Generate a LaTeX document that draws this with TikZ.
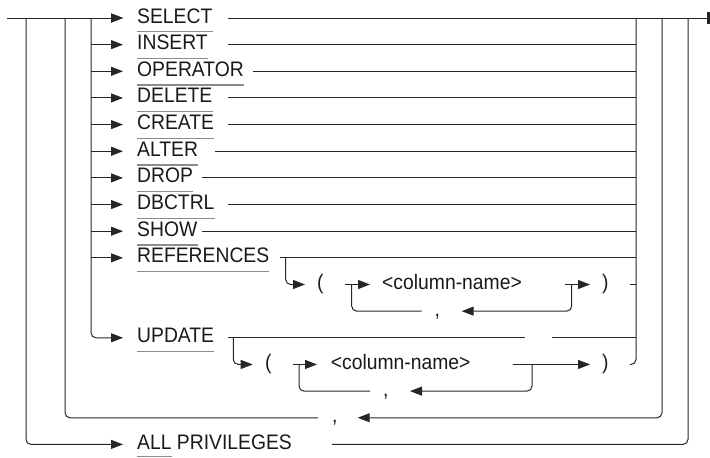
\documentclass[tikz,border=0pt]{standalone}
\usepackage{fontspec}
\setmainfont[FakeStretch=0.92]{Liberation Sans}
\usetikzlibrary{arrows.meta}
\begin{document}
\begin{tikzpicture}[x=1pt,y=-1pt,
  ln/.style={draw=black!85,line width=1pt},
  arr/.style={ln,-{Triangle[length=12pt,width=9pt]}},
  ul/.style={draw=black!45,line width=1.2pt},
  kw/.style={anchor=base west,inner sep=0pt,font=\fontsize{21}{25}\selectfont,text=black!90},
  rc/.style={rounded corners=5pt}]
\useasboundingbox (0,0) rectangle (710,458);
\def\dy{26.65}
% start and end of the main line
\coordinate (start) at (7,18);
\coordinate (stop) at (708.3,18);
\draw[arr] (start) -- (123,18);
\draw[ln] (228,18) -- (stop);
\draw[black!85,line width=3.3pt] (708.3,12) -- (708.3,24);
% simple keyword rows
\foreach \i/\nm/\txt/\xs in {0/sel/SELECT/228,1/ins/INSERT/228,2/opr/OPERATOR/253,3/del/DELETE/228,4/cre/CREATE/228,5/alt/ALTER/215,6/drp/DROP/201.7,7/dbc/DBCTRL/228,8/shw/SHOW/201.7,9/ref/REFERENCES/280}{
  \pgfmathsetmacro\y{18+\dy*\i}
  \pgfmathsetmacro\yb{\y+5}
  \node[kw] (\nm) at (137,\yb) {\txt};
  \draw[ul] ([yshift=-8.7pt]\nm.base west) -- ([yshift=-8.7pt]\nm.base east);
  \draw[arr] (91,\y) -- (123,\y);
  \draw[ln] (\xs,\y) -- (636,\y);
}
% left rails
\draw[arr,rc] (26,18) -- (26,444.4) -- (123,444.4);
\draw[ln,rc] (65,18) -- (65,417.75) -- (318,417.75);
\draw[arr,rc] (91,18) -- (91,337.8) -- (123,337.8);
% right rails
\draw[ln,rc] (636,18) -- (636,364.45) -- (630,364.45);
\draw[arr,rc] (662,18) -- (662,417.75) -- (357.7,417.75);
\draw[ln,rc] (688,18) -- (688,444.4) -- (332,444.4);
% REFERENCES column list
\draw[arr,rc] (285.7,257.85) -- (285.7,284.5) -- (305,284.5);
\node[kw] (lp1) at (317,289.5) {(};
\draw[arr] (345,284.5) -- (370,284.5);
\node[kw] (col1) at (382,289.5) {<column-name>};
\draw[ln,rc] (351.7,284.5) -- (351.7,311.15) -- (421.7,311.15);
\node[kw] (cm1) at (434.5,316.15) {,};
\draw[arr,rc] (571.7,284.5) -- (571.7,311.15) -- (461.7,311.15);
\draw[arr] (565,284.5) -- (590,284.5);
\node[kw] (rp1) at (602,289.5) {)};
\draw[ln] (630,284.5) -- (636,284.5);
% UPDATE
\node[kw] (upd) at (137,342.8) {UPDATE};
\draw[ul] ([yshift=-8.7pt]upd.base west) -- ([yshift=-8.7pt]upd.base east);
\draw[ln] (228,337.8) -- (525,337.8);
\draw[ln] (551.7,337.8) -- (636,337.8);
\draw[arr,rc] (233.3,337.8) -- (233.3,364.45) -- (252.7,364.45);
\node[kw] (lp2) at (265,369.45) {(};
\draw[arr] (293,364.45) -- (317,364.45);
\node[kw] (col2) at (330.7,369.45) {<column-name>};
\draw[ln,rc] (299,364.45) -- (299,391.1) -- (370,391.1);
\node[kw] (cm2) at (383,396.1) {,};
\draw[arr,rc] (532,364.45) -- (532,391.1) -- (410,391.1);
\draw[arr] (513.3,364.45) -- (590,364.45);
\node[kw] (rp2) at (602,369.45) {)};
% outer comma
\node[kw] (cm3) at (332,422.75) {,};
% ALL PRIVILEGES
\node[kw] (all) at (137,449.4) {ALL PRIVILEGES};
\draw[ul] (137,456.5) -- (171.5,456.5);
\end{tikzpicture}
\end{document}
